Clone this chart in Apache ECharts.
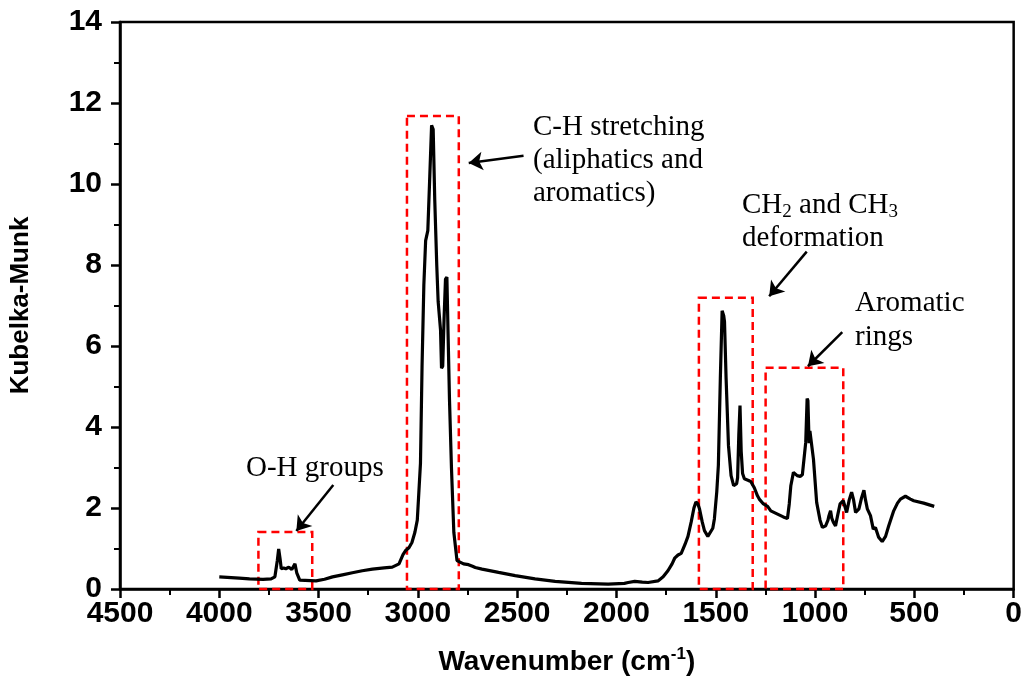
<!DOCTYPE html>
<html>
<head>
<meta charset="utf-8">
<script src="https://cdn.jsdelivr.net/npm/echarts@6/dist/echarts.min.js"></script>
<style>
html,body{margin:0;padding:0;background:#fff;}
#chart{width:1025px;height:681px;}
</style>
</head>
<body>
<div id="chart"></div>
<script>
// Spectrum: wavenumber (cm-1) and Kubelka-Munk values
const wavenumber = [4000,3900,3848,3780,3739,3720,3708,3701,3694,3688,3676,3665,3650,3635,3619,3610,3595,3589,3513,3470,3430,3380,3330,3280,3229,3170,3129,3095,3075,3062,3045,3030,3015,3003,2995,2987,2979,2970,2961,2950,2940,2931,2923,2915,2905,2898,2886,2881,2875,2868,2861,2854,2848,2841,2831,2819,2803,2794,2770,2745,2736,2725,2711,2677,2594,2510,2410,2309,2176,2042,1960,1941,1908,1870,1841,1791,1765,1741,1720,1707,1690,1674,1655,1640,1624,1610,1600,1590,1582,1568,1557,1540,1530,1515,1507,1495,1487,1477,1468,1460,1456,1448,1436,1423,1410,1403,1395,1390,1384,1378,1372,1365,1356,1335,1323,1306,1290,1281,1260,1239,1223,1189,1160,1139,1130,1122,1109,1090,1075,1064,1047,1040,1036,1030,1026,1022,1008,992,975,963,947,935,930,922,916,908,897,885,874,858,841,828,816,806,796,779,766,754,746,737,721,707,700,696,680,662,645,629,604,585,570,545,520,503,453,400];
const kubelkaMunk = [0.30,0.27,0.25,0.24,0.25,0.30,0.70,0.99,0.75,0.50,0.52,0.50,0.54,0.48,0.62,0.40,0.22,0.20,0.20,0.24,0.30,0.35,0.40,0.45,0.49,0.52,0.54,0.62,0.85,0.95,1.02,1.15,1.40,1.70,2.40,3.10,5.50,7.50,8.60,8.85,10.20,11.45,11.35,9.60,8.00,7.10,6.40,5.45,5.50,6.70,7.65,7.70,6.30,4.70,3.00,1.40,0.70,0.66,0.62,0.60,0.64,0.56,0.53,0.49,0.41,0.33,0.25,0.19,0.14,0.12,0.14,0.16,0.19,0.17,0.16,0.20,0.30,0.45,0.62,0.76,0.84,0.88,1.10,1.30,1.65,2.00,2.15,2.10,1.98,1.65,1.44,1.30,1.28,1.50,1.73,2.40,3.05,5.20,6.87,6.75,6.60,5.20,3.54,2.80,2.55,2.51,2.60,2.75,3.80,4.53,3.40,2.85,2.72,2.68,2.65,2.50,2.30,2.22,2.10,2.04,1.93,1.85,1.78,1.74,2.10,2.55,2.88,2.80,2.78,2.82,3.62,4.70,4.65,3.60,3.90,3.87,3.20,2.14,1.70,1.52,1.56,1.70,1.81,1.93,1.75,1.65,1.56,1.85,2.10,2.18,1.89,2.20,2.39,2.20,1.89,1.98,2.25,2.44,2.20,1.98,1.81,1.48,1.52,1.52,1.28,1.17,1.30,1.56,1.93,2.12,2.22,2.29,2.22,2.18,2.12,2.04];

// Highlight boxes (band regions, in data units)
const boxNames = ['O-H', 'C-H', 'CH2/CH3', 'Aromatic'];
const boxFrom  = [3803, 3055, 1585, 1249];
const boxTo    = [3532, 2794, 1314, 858];
const boxTop   = [1.41, 11.68, 7.19, 5.46];

// Arrows (tail -> head, data units)
const arrowTailX = [3426, 2468, 1042, 863];
const arrowTailY = [2.57, 10.70, 8.33, 6.34];
const arrowHeadX = [3612, 2744, 1231, 1036];
const arrowHeadY = [1.43, 10.52, 7.23, 5.50];

const xTicks = {min: 0, max: 4500, interval: 500};
const yTicks = {min: 0, max: 14, interval: 2};

const seriesData = wavenumber.map((w, i) => [w, kubelkaMunk[i]]);

const serif = "'Liberation Serif','Times New Roman',serif";
const sans = "'Liberation Sans',Arial,sans-serif";

const chart = echarts.init(document.getElementById('chart'), null, {renderer: 'canvas'});

const markAreaData = boxFrom.map((f, i) => [{coord: [f, boxTop[i]]}, {coord: [boxTo[i], 0]}]);
const markLineData = arrowTailX.map((x, i) => [
  {coord: [x, arrowTailY[i]], symbol: 'none'},
  {coord: [arrowHeadX[i], arrowHeadY[i]], symbol: 'arrow'}
]);

function txt(x, y, text, rich) {
  const st = {x: x, y: y, text: text, fill: '#000', font: '29px ' + serif, textVerticalAlign: 'middle', textAlign: 'left'};
  if (rich) st.rich = rich;
  return {type: 'text', z: 100, style: st};
}
const subRich = {
  a: {fontSize: 29, fontFamily: serif, color: '#000', lineHeight: 33},
  b: {fontSize: 19, fontFamily: serif, color: '#000', lineHeight: 19, verticalAlign: 'bottom'}
};

chart.setOption({
  animation: false,
  backgroundColor: '#fff',
  grid: {left: 120, right: 8, top: 22, bottom: 91, show: true, borderColor: '#000', borderWidth: 2.5, backgroundColor: 'transparent'},
  xAxis: {
    type: 'value', inverse: true, min: xTicks.min, max: xTicks.max, interval: xTicks.interval,
    name: '{a|Wavenumber (cm}{b|-1}{a|)}', nameLocation: 'middle', nameGap: 57,
    nameTextStyle: {rich: {
      a: {fontSize: 28, fontWeight: 'bold', fontFamily: sans, color: '#000', lineHeight: 32},
      b: {fontSize: 17, fontWeight: 'bold', fontFamily: sans, color: '#000', lineHeight: 17, verticalAlign: 'top'}
    }},
    axisLine: {onZero: false, lineStyle: {color: '#000', width: 2.5}},
    axisTick: {inside: false, length: 9, lineStyle: {color: '#000', width: 2.5}},
    minorTick: {show: true, splitNumber: 2, length: 6, lineStyle: {color: '#000', width: 2}},
    splitLine: {show: false},
    axisLabel: {fontSize: 30, fontWeight: 'bold', fontFamily: sans, color: '#000', margin: 10,
      formatter: v => String(v)}
  },
  yAxis: {
    type: 'value', min: yTicks.min, max: yTicks.max, interval: yTicks.interval,
    name: 'Kubelka-Munk', nameLocation: 'middle', nameGap: 86, nameRotate: 90,
    nameTextStyle: {fontSize: 26, fontWeight: 'bold', fontFamily: sans, color: '#000'},
    axisLine: {show: true, onZero: false, lineStyle: {color: '#000', width: 2.5}},
    axisTick: {show: true, inside: false, length: 9, lineStyle: {color: '#000', width: 2.5}},
    minorTick: {show: true, splitNumber: 2, length: 6, lineStyle: {color: '#000', width: 2}},
    splitLine: {show: false},
    axisLabel: {fontSize: 30, fontWeight: 'bold', fontFamily: sans, color: '#000', margin: 18,
      formatter: v => String(v)}
  },
  series: [{
    type: 'line', data: seriesData, showSymbol: false, symbol: 'none',
    lineStyle: {color: '#000', width: 3.2}, z: 5,
    markArea: {
      silent: true,
      itemStyle: {color: 'rgba(0,0,0,0)', borderColor: '#ff0000', borderWidth: 2.5, borderType: [8, 5]},
      label: {show: false},
      data: markAreaData
    },
    markLine: {
      silent: true, symbolSize: 14,
      lineStyle: {color: '#000', width: 2.5, type: 'solid'},
      label: {show: false},
      data: markLineData
    }
  }],
  graphic: [
    txt(533, 127, 'C-H stretching'),
    txt(533, 160, '(aliphatics and'),
    txt(533, 193, 'aromatics)'),
    txt(742, 205, '{a|CH}{b|2}{a| and CH}{b|3}', subRich),
    txt(742, 238, 'deformation'),
    txt(855, 303, 'Aromatic'),
    txt(855, 337, 'rings'),
    txt(246, 468, 'O-H groups')
  ]
});
</script>
</body>
</html>
